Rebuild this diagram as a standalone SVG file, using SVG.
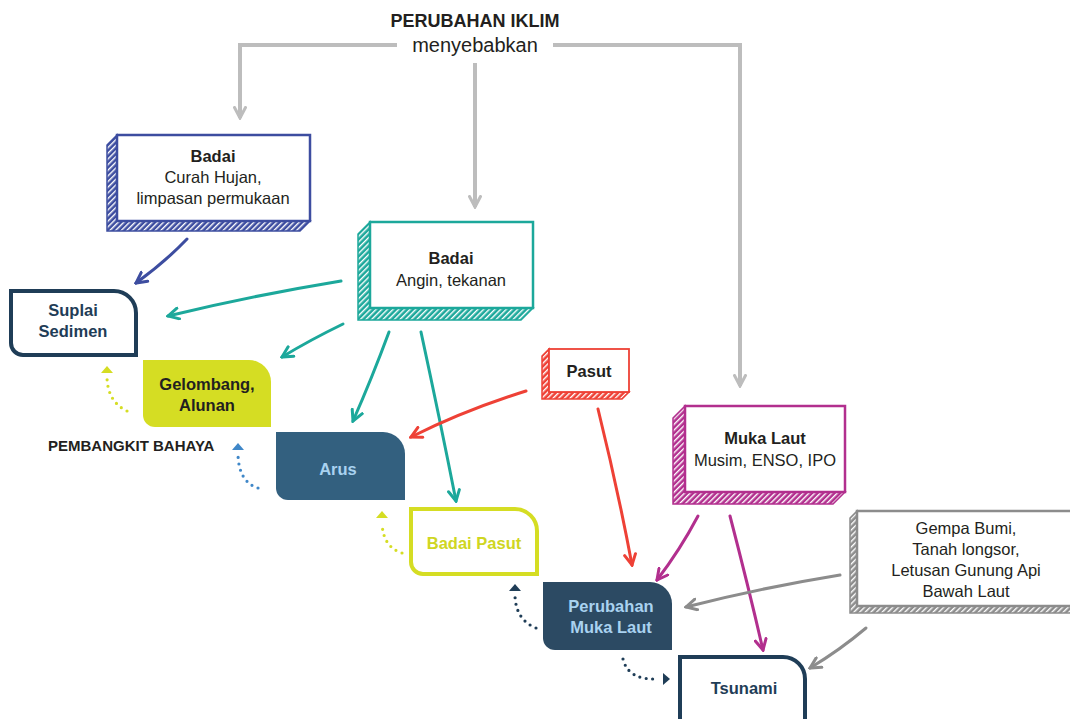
<svg xmlns="http://www.w3.org/2000/svg" width="1070" height="719" viewBox="0 0 1070 719">
<defs>
<style>
text{font-family:"Liberation Sans",Arial,sans-serif;text-anchor:middle;fill:#231f20}
.t{font-size:16.5px}
.b{font-weight:bold}
.front{fill:#fff;stroke-width:2.5}
.con{fill:none;stroke-width:3;stroke-linecap:round}
.dot{fill:none;stroke-width:3.2;stroke-linecap:round;stroke-dasharray:0 6.5}
.lb{fill:#a9d2f0}
.nv{fill:#1f3d57}
</style>
<pattern id="h-blue" width="4" height="4" patternUnits="userSpaceOnUse" patternTransform="rotate(45)"><rect width="4" height="4" fill="#3d4da0"/><rect width="1.4" height="4" fill="#fff"/></pattern>
<pattern id="h-teal" width="4" height="4" patternUnits="userSpaceOnUse" patternTransform="rotate(45)"><rect width="4" height="4" fill="#1ca89b"/><rect width="1.4" height="4" fill="#fff"/></pattern>
<pattern id="h-red" width="4" height="4" patternUnits="userSpaceOnUse" patternTransform="rotate(45)"><rect width="4" height="4" fill="#ee4136"/><rect width="1.4" height="4" fill="#fff"/></pattern>
<pattern id="h-mag" width="4" height="4" patternUnits="userSpaceOnUse" patternTransform="rotate(45)"><rect width="4" height="4" fill="#b22f8e"/><rect width="1.4" height="4" fill="#fff"/></pattern>
<pattern id="h-gray" width="4" height="4" patternUnits="userSpaceOnUse" patternTransform="rotate(45)"><rect width="4" height="4" fill="#8c8c8c"/><rect width="1.4" height="4" fill="#fff"/></pattern>
<marker id="a-gray" viewBox="0 0 14 14" refX="12" refY="7" markerWidth="14" markerHeight="14" markerUnits="userSpaceOnUse" orient="auto"><path d="M1.5,1.5 L12,7 L1.5,12.5" fill="none" stroke="#bdbdbd" stroke-width="3" stroke-linecap="round"/></marker>
<marker id="a-blue" viewBox="0 0 14 14" refX="12" refY="7" markerWidth="14" markerHeight="14" markerUnits="userSpaceOnUse" orient="auto"><path d="M1.5,1.5 L12,7 L1.5,12.5" fill="none" stroke="#3d4da0" stroke-width="3" stroke-linecap="round"/></marker>
<marker id="a-teal" viewBox="0 0 14 14" refX="12" refY="7" markerWidth="14" markerHeight="14" markerUnits="userSpaceOnUse" orient="auto"><path d="M1.5,1.5 L12,7 L1.5,12.5" fill="none" stroke="#1ca89b" stroke-width="3" stroke-linecap="round"/></marker>
<marker id="a-red" viewBox="0 0 14 14" refX="12" refY="7" markerWidth="14" markerHeight="14" markerUnits="userSpaceOnUse" orient="auto"><path d="M1.5,1.5 L12,7 L1.5,12.5" fill="none" stroke="#ee4136" stroke-width="3" stroke-linecap="round"/></marker>
<marker id="a-mag" viewBox="0 0 14 14" refX="12" refY="7" markerWidth="14" markerHeight="14" markerUnits="userSpaceOnUse" orient="auto"><path d="M1.5,1.5 L12,7 L1.5,12.5" fill="none" stroke="#b22f8e" stroke-width="3" stroke-linecap="round"/></marker>
<marker id="a-dgray" viewBox="0 0 14 14" refX="12" refY="7" markerWidth="14" markerHeight="14" markerUnits="userSpaceOnUse" orient="auto"><path d="M1.5,1.5 L12,7 L1.5,12.5" fill="none" stroke="#8c8c8c" stroke-width="3" stroke-linecap="round"/></marker>
</defs>
<rect width="1070" height="719" fill="#fff"/>

<g id="title">
<text x="475" y="27" class="b" style="font-size:18px">PERUBAHAN IKLIM</text>
<text x="475" y="52" style="font-size:20px">menyebabkan</text>
</g>

<g id="connectors">
<path d="M397,45 H240 V118" fill="none" stroke="#bdbdbd" stroke-width="4" marker-end="url(#a-gray)"/>
<path d="M553,45 H740 V386" fill="none" stroke="#bdbdbd" stroke-width="4" marker-end="url(#a-gray)"/>
<path d="M475,63 V207" fill="none" stroke="#bdbdbd" stroke-width="4" marker-end="url(#a-gray)"/>
<path class="con" d="M187,239 Q165,262 136,283" stroke="#3d4da0" marker-end="url(#a-blue)"/>
<path class="con" d="M341,281 Q250,296 168,316" stroke="#1ca89b" marker-end="url(#a-teal)"/>
<path class="con" d="M343,324 Q310,340 282,357" stroke="#1ca89b" marker-end="url(#a-teal)"/>
<path class="con" d="M389,332 Q372,378 353,421" stroke="#1ca89b" marker-end="url(#a-teal)"/>
<path class="con" d="M421,332 Q440,420 456,501" stroke="#1ca89b" marker-end="url(#a-teal)"/>
<path class="con" d="M526,391 Q465,410 411,437" stroke="#ee4136" marker-end="url(#a-red)"/>
<path class="con" d="M598,409 Q618,490 632,565" stroke="#ee4136" marker-end="url(#a-red)"/>
<path class="con" d="M698,516 Q680,550 657,580" stroke="#b22f8e" marker-end="url(#a-mag)"/>
<path class="con" d="M730,516 Q748,585 763,650" stroke="#b22f8e" marker-end="url(#a-mag)"/>
<path class="con" d="M840,575 Q760,588 686,607" stroke="#8c8c8c" marker-end="url(#a-dgray)"/>
<path class="con" d="M866,628 Q840,650 810,668" stroke="#8c8c8c" marker-end="url(#a-dgray)"/>
<path class="dot" d="M127,411 Q108,402 107,378" stroke="#d5dd23"/>
<polygon points="101,373 113,373 107,366" fill="#d5dd23"/>
<path class="dot" d="M258,488 Q239,482 238,455" stroke="#3f87c8"/>
<polygon points="232,450 244,450 238,443" fill="#3f87c8"/>
<path class="dot" d="M402,553 Q383,547 382,523" stroke="#d5dd23"/>
<polygon points="376,518 388,518 382,511" fill="#d5dd23"/>
<path class="dot" d="M536,628 Q516,620 515,596" stroke="#1f3d57"/>
<polygon points="509,591 521,591 515,584" fill="#1f3d57"/>
<path class="dot" d="M623,659 Q628,680 657,679" stroke="#1f3d57"/>
<polygon points="663,673 663,685 670,679" fill="#1f3d57"/>
</g>

<g id="badai-hujan">
<polygon points="117,135 107,145 107,231 300,231 310,221 117,221" fill="url(#h-blue)" stroke="#3d4da0" stroke-width="1.5"/>
<rect class="front" x="117" y="135" width="193" height="86" stroke="#3d4da0"/>
<text x="213" y="162" class="t b">Badai</text>
<text x="213" y="183" class="t">Curah Hujan,</text>
<text x="213" y="204" class="t">limpasan permukaan</text>
</g>

<g id="badai-angin">
<polygon points="370,222 358,234 358,320 521,320 533,308 370,308" fill="url(#h-teal)" stroke="#1ca89b" stroke-width="1.5"/>
<rect class="front" x="370" y="222" width="163" height="86" stroke="#1ca89b"/>
<text x="451" y="264" class="t b">Badai</text>
<text x="451" y="286" class="t">Angin, tekanan</text>
</g>

<g id="pasut">
<polygon points="549,349 542,356 542,399 622,399 629,392 549,392" fill="url(#h-red)" stroke="#ee4136" stroke-width="1.5"/>
<rect class="front" x="549" y="349" width="80" height="43" stroke="#ee4136" style="stroke-width:1.8"/>
<text x="589" y="377" class="t b">Pasut</text>
</g>

<g id="muka-laut">
<polygon points="685,406 673,418 673,504 833,504 845,492 685,492" fill="url(#h-mag)" stroke="#b22f8e" stroke-width="1.5"/>
<rect class="front" x="685" y="406" width="160" height="86" stroke="#b22f8e"/>
<text x="765" y="444" class="t b">Muka Laut</text>
<text x="765" y="466" class="t">Musim, ENSO, IPO</text>
</g>

<g id="gempa">
<polygon points="857,511 850,518 850,613 1080,613 1080,606 857,606" fill="url(#h-gray)" stroke="#8c8c8c" stroke-width="1.5"/>
<rect class="front" x="857" y="511" width="230" height="95" stroke="#8c8c8c"/>
<text x="966" y="534" class="t">Gempa Bumi,</text>
<text x="966" y="555" class="t">Tanah longsor,</text>
<text x="966" y="576" class="t">Letusan Gunung Api</text>
<text x="966" y="597" class="t">Bawah Laut</text>
</g>

<g id="suplai-sedimen">
<path d="M11,291 H114 A22,22 0 0 1 136,313 V355 H23 A12,12 0 0 1 11,343 Z" fill="#fff" stroke="#1f3d57" stroke-width="4"/>
<text x="73" y="316" class="t b nv">Suplai</text>
<text x="73" y="337" class="t b nv">Sedimen</text>
</g>

<g id="gelombang">
<path d="M143,360 H249 A22,22 0 0 1 271,382 V427 H155 A12,12 0 0 1 143,415 Z" fill="#d5dd23"/>
<text x="207" y="390" class="t b">Gelombang,</text>
<text x="207" y="411" class="t b">Alunan</text>
</g>

<g id="pembangkit">
<text x="48" y="451" class="b" style="font-size:15px;text-anchor:start">PEMBANGKIT BAHAYA</text>
</g>

<g id="arus">
<path d="M276,432 H383 A22,22 0 0 1 405,454 V500 H288 A12,12 0 0 1 276,488 Z" fill="#33607f"/>
<text x="338" y="475" class="t b lb">Arus</text>
</g>

<g id="badai-pasut">
<path d="M411,509 H515 A22,22 0 0 1 537,531 V574 H423 A12,12 0 0 1 411,562 Z" fill="#fff" stroke="#d5dd23" stroke-width="4"/>
<text x="474" y="549" class="t b" style="fill:#cfd622">Badai Pasut</text>
</g>

<g id="perubahan-muka-laut">
<path d="M543,582 H650 A22,22 0 0 1 672,604 V650 H555 A12,12 0 0 1 543,638 Z" fill="#2c4a63"/>
<text x="611" y="612" class="t b lb">Perubahan</text>
<text x="611" y="633" class="t b lb">Muka Laut</text>
</g>

<g id="tsunami">
<path d="M680,657 H783 A22,22 0 0 1 805,679 V735 H680 Z" fill="#fff" stroke="#1f3d57" stroke-width="4"/>
<text x="744" y="694" class="t b nv">Tsunami</text>
</g>
</svg>
